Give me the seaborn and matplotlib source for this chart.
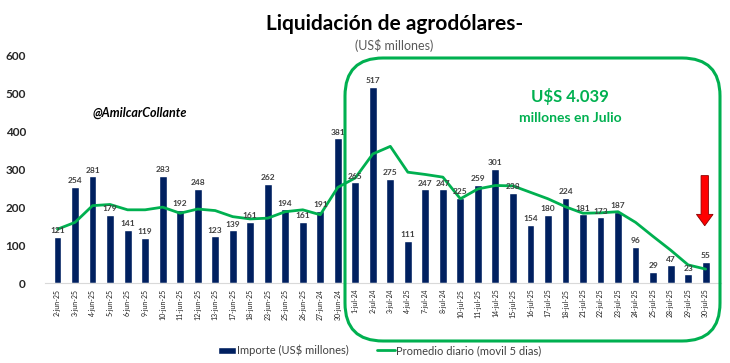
import numpy as np
import pandas as pd
import seaborn as sns
import matplotlib.pyplot as plt
from matplotlib.patches import FancyBboxPatch
from matplotlib.transforms import IdentityTransform

# datos
fechas = ["2-jun-25", "3-jun-25", "4-jun-25", "5-jun-25", "6-jun-25", "9-jun-25",
          "10-jun-25", "11-jun-25", "12-jun-25", "13-jun-25", "17-jun-25", "18-jun-25",
          "23-jun-25", "25-jun-25", "26-jun-25", "27-jun-24", "30-jun-24",
          "1-jul-24", "2-jul-24", "3-jul-24", "4-jul-25", "7-jul-24", "8-jul-24",
          "10-jul-25", "11-jul-25", "14-jul-25", "15-jul-25", "16-jul-25", "17-jul-25",
          "18-jul-25", "21-jul-25", "22-jul-25", "23-jul-25", "24-jul-25", "25-jul-25",
          "28-jul-25", "29-jul-25", "30-jul-25"]
importe = [121, 254, 281, 179, 141, 119, 283, 192, 248, 123, 139, 161, 262, 194,
           161, 191, 381, 265, 517, 275, 111, 247, 247, 225, 259, 301, 238, 154,
           180, 224, 181, 173, 187, 96, 29, 47, 23, 55]
promedio = [142, 160, 204, 207, 193, 193, 200, 184, 195, 191, 175, 169, 171, 188,
            193, 180, 252, 277, 340, 360, 292, 286, 279, 222, 248, 257, 256, 239,
            222, 201, 184, 185, 188, 160, 123, 87, 48, 37]

tabela = pd.DataFrame({"fecha": fechas, "importe": importe, "promedio": promedio})

sns.set_style("white")
plt.rcParams["font.family"] = ["Lato", "DejaVu Sans"]

azul = "#002060"
verde = "#00B050"

fig = plt.figure(figsize=(7.3, 3.63), dpi=100)
ax = fig.add_axes([0.062, 0.22, 0.925, 0.628])

sns.barplot(data=tabela, x="fecha", y="importe", color=azul, width=0.45,
            saturation=1, ax=ax, label="Importe (US$ millones)")
sns.lineplot(x=np.arange(len(tabela)), y=tabela["promedio"], color=verde,
             linewidth=2.0, ax=ax, label="Promedio diario (movil 5 dias)")

ax.bar_label(ax.containers[0], padding=2, fontsize=6, fontweight="bold", color="#404040")

ax.set_ylim(0, 600)
ax.set_xlim(-0.7, 37.85)
ax.set_yticks(range(0, 601, 100))
ax.set_xlabel("")
ax.set_ylabel("")
ax.tick_params(axis="x", labelrotation=90, labelsize=5, length=0, pad=4, colors="#222222")
ax.tick_params(axis="y", labelsize=8.5, length=0, pad=14)
for t in ax.get_yticklabels():
    t.set_fontweight("bold")
for s in ["top", "right", "left"]:
    ax.spines[s].set_visible(False)
ax.spines["bottom"].set_color("#d9d9d9")

# leyenda: barras primero
handles, labels = ax.get_legend_handles_labels()
orden = [labels.index("Importe (US$ millones)"), labels.index("Promedio diario (movil 5 dias)")]
ax.legend([handles[i] for i in orden], [labels[i] for i in orden],
          loc="center", bbox_to_anchor=(0.52, 0.035), bbox_transform=fig.transFigure,
          ncol=2, frameon=False, fontsize=8, labelcolor="#404040",
          handlelength=1.6, handleheight=0.6, handletextpad=0.1, columnspacing=2.5)

# titulos
fig.text(0.54, 0.935, "Liquidación de agrodólares-", ha="center", va="center",
         fontsize=15, fontweight="bold", color="black")
fig.text(0.54, 0.875, "(US$ millones)", ha="center", va="center",
         fontsize=9, color="#595959")
fig.text(0.192, 0.69, "@AmilcarCollante", ha="center", va="center",
         fontsize=9, fontweight="bold", style="italic", color="black")

# recuadro julio
caixa = FancyBboxPatch((345, 22), 375, 283, boxstyle="round,pad=0,rounding_size=38",
                       transform=IdentityTransform(), fill=False, edgecolor=verde,
                       linewidth=2.2, clip_on=False, zorder=5)
fig.patches.append(caixa)
fig.text(0.781, 0.733, "U$S 4.039", ha="center", va="center",
         fontsize=12, fontweight="bold", color=verde)
fig.text(0.781, 0.675, "millones en Julio", ha="center", va="center",
         fontsize=10, fontweight="bold", color=verde)

# flecha roja
ax.arrow(36.95, 283, 0, -132, width=0.42, head_width=0.95, head_length=30,
         length_includes_head=True, facecolor="#FF0000", edgecolor="#8B0000",
         linewidth=0.6, zorder=6)

plt.savefig("out.png", dpi=100)
plt.close()
